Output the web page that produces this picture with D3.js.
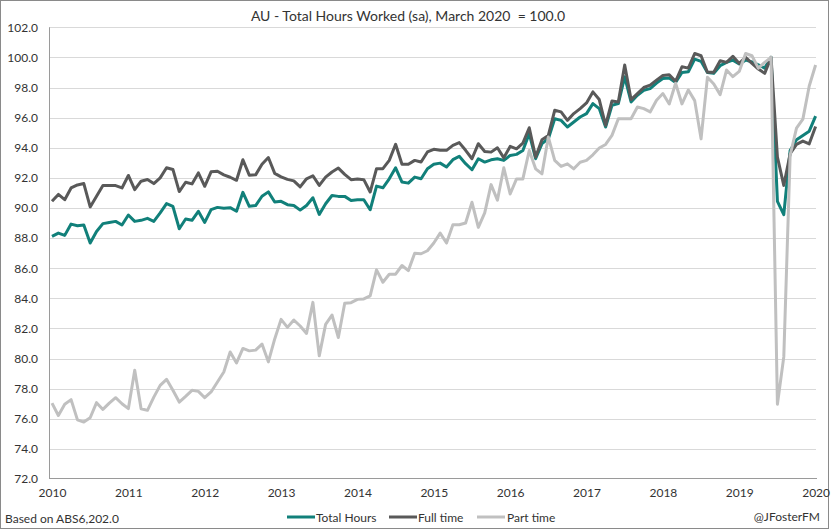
<!DOCTYPE html>
<html>
<head>
<meta charset="utf-8">
<script src="https://cdn.jsdelivr.net/npm/d3@7"></script>
<style>
  html, body { margin: 0; padding: 0; background: #fff; }
  svg { display: block; }
  text { font-family: "Lato", "Open Sans", sans-serif; fill: #333; }
</style>
</head>
<body>
<svg id="chart" width="832" height="530"></svg>
<script>
// ---- Data (monthly index, March 2020 = 100.0) ----
const totalHours = [
  88.11, 88.33, 88.18, 88.93, 88.82, 88.87, 87.67, 88.44, 88.96, 89.04, 89.11, 88.87, 89.53, 89.11, 89.18, 89.31, 89.11, 89.67, 90.29, 90.11,
  88.62, 89.27, 89.18, 89.78, 89.04, 89.89, 90.04, 89.98, 90.02, 89.78, 91.04, 90.11, 90.16, 90.78, 91.07, 90.40, 90.44, 90.22, 90.17, 89.86,
  90.17, 90.68, 89.57, 90.28, 90.83, 90.77, 90.77, 90.50, 90.55, 90.55, 89.88, 91.45, 91.34, 91.94, 92.67, 91.72, 91.65, 92.05, 91.94, 92.61,
  92.90, 92.98, 92.72, 93.21, 93.43, 92.94, 92.54, 93.27, 93.05, 93.20, 93.27, 93.16, 93.49, 93.56, 93.82, 94.93, 93.27, 94.27, 94.60, 95.93,
  95.82, 95.38, 95.71, 96.04, 96.27, 96.93, 96.60, 95.38, 96.82, 96.93, 98.71, 97.04, 97.49, 97.82, 97.93, 98.30, 98.60, 98.63, 98.34, 99.00,
  99.05, 99.89, 99.74, 99.00, 98.94, 99.45, 99.67, 99.82, 99.56, 99.82, 99.70, 99.51, 99.29, 100.0, 90.44, 89.56, 93.82, 94.53, 94.81, 95.10,
  96.10
];
const fullTime = [
  90.44, 90.90, 90.55, 91.33, 91.53, 91.62, 90.07, 90.78, 91.49, 91.49, 91.49, 91.33, 92.16, 91.22, 91.78, 91.89, 91.62, 92.00, 92.67, 92.56,
  91.09, 91.71, 91.60, 92.33, 91.44, 92.40, 92.44, 92.20, 92.04, 91.84, 93.20, 92.18, 92.20, 92.90, 93.35, 92.30, 92.07, 91.90, 91.80, 91.40,
  91.94, 92.14, 91.50, 92.05, 92.39, 92.65, 92.23, 91.88, 91.92, 91.88, 91.06, 92.61, 92.61, 93.16, 94.23, 92.90, 92.90, 93.16, 93.05, 93.72,
  93.90, 93.83, 93.83, 94.16, 94.34, 93.83, 93.27, 94.27, 93.75, 93.71, 94.00, 93.33, 94.09, 93.93, 94.31, 95.33, 93.38, 94.53, 94.82, 96.49,
  96.38, 95.82, 96.27, 96.60, 96.98, 97.71, 97.20, 95.49, 97.11, 97.04, 99.49, 97.20, 97.60, 98.00, 98.16, 98.49, 98.80, 98.85, 98.41, 99.38,
  99.29, 100.26, 100.11, 99.01, 99.01, 99.78, 99.67, 100.07, 99.60, 100.0, 99.60, 99.23, 98.94, 100.0, 93.38, 91.50, 93.60, 94.22, 94.44, 94.26,
  95.41
];
const partTime = [
  77.04, 76.22, 76.96, 77.27, 75.93, 75.78, 76.07, 77.07, 76.62, 77.04, 77.40, 77.00, 76.67, 79.22, 76.67, 76.56, 77.44, 78.22, 78.62, 77.89,
  77.11, 77.49, 77.89, 77.82, 77.40, 77.78, 78.44, 79.11, 80.44, 79.71, 80.67, 80.51, 80.56, 80.96, 79.78, 81.30, 82.60, 82.07, 82.56, 82.16,
  81.67, 83.73, 80.18, 82.27, 82.89, 81.40, 83.67, 83.71, 83.93, 83.96, 84.16, 85.89, 85.07, 85.60, 85.60, 86.18, 85.84, 87.00, 86.96, 87.16,
  87.67, 88.33, 87.67, 88.89, 88.89, 89.00, 90.38, 88.71, 89.67, 91.55, 90.52, 92.67, 90.93, 91.93, 91.93, 93.82, 92.60, 92.27, 94.71, 93.16,
  92.76, 92.93, 92.60, 93.04, 93.16, 93.53, 93.98, 94.22, 94.82, 95.93, 95.93, 95.93, 96.71, 96.60, 96.38, 97.16, 97.60, 96.91, 98.28, 96.91,
  97.84, 97.13, 94.59, 98.68, 98.23, 97.53, 99.16, 98.72, 99.07, 100.26, 100.11, 99.29, 99.67, 100.0, 76.96, 80.11, 93.50, 95.30, 95.90, 98.10,
  99.50
];
const xTickLabels = ["2010","2011","2012","2013","2014","2015","2016","2017","2018","2019","2020"];
const yTicks = [72, 74, 76, 78, 80, 82, 84, 86, 88, 90, 92, 94, 96, 98, 100, 102];
const seriesNames = ["Total Hours", "Full time", "Part time"];
const seriesColors = ["#11807a", "#595959", "#c0c0c0"];
const titleText = "AU - Total Hours Worked (sa), March 2020  = 100.0";
const sourceText = "Based on ABS6,202.0";
const creditText = "@JFosterFM";

// ---- Chart ----
const svg = d3.select("#chart");
const plot = { left: 49, right: 816, top: 27.3, bottom: 479 };
const n = totalHours.length;

const x = d3.scaleLinear().domain([0, n - 1]).range([52, 815.6]);
const y = d3.scaleLinear().domain([72, 102]).range([plot.bottom, plot.top]);
const xLab = d3.scalePoint().domain(xTickLabels).range([x(0), x(n - 1)]);

// outer frame
svg.append("rect")
  .attr("x", 0.5).attr("y", 0.5).attr("width", 828).attr("height", 528)
  .attr("fill", "#fff").attr("stroke", "#8a8a8a").attr("stroke-width", 1);

// gridlines
svg.append("g").selectAll("line").data(yTicks.filter(d => d > 72)).join("line")
  .attr("x1", plot.left).attr("x2", plot.right)
  .attr("y1", d => Math.round(y(d)) + 0.5).attr("y2", d => Math.round(y(d)) + 0.5)
  .attr("stroke", "#d9d9d9").attr("stroke-width", 1);

// y axis labels
const yAxis = d3.axisLeft(y).tickValues(yTicks).tickFormat(d3.format(".1f")).tickSize(0).tickPadding(0);
const gy = svg.append("g").attr("transform", `translate(${plot.left - 11},0)`).call(yAxis);
gy.select(".domain").remove();
gy.selectAll("text").style("font-size", "12px").attr("fill", "#333")
  .style("font-family", "Lato, 'Open Sans', sans-serif");

// axis lines
svg.append("line").attr("x1", plot.left + 0.5).attr("x2", plot.left + 0.5)
  .attr("y1", plot.top).attr("y2", plot.bottom).attr("stroke", "#9a9a9a");
svg.append("line").attr("x1", plot.left).attr("x2", plot.right + 1)
  .attr("y1", Math.round(plot.bottom) - 0.5).attr("y2", Math.round(plot.bottom) - 0.5).attr("stroke", "#9a9a9a");

// x axis labels
const xAxis = d3.axisBottom(xLab).tickSize(0).tickPadding(0);
const gx = svg.append("g").attr("transform", `translate(0,${plot.bottom + 9})`).call(xAxis);
gx.select(".domain").remove();
gx.selectAll("text").style("font-size", "12px").attr("fill", "#333")
  .style("font-family", "Lato, 'Open Sans', sans-serif");

// lines
const line = d3.line().x((d, i) => x(i)).y(d => y(d));
[totalHours, fullTime, partTime].forEach((s, k) => {
  svg.append("path").datum(s)
    .attr("d", line)
    .attr("fill", "none")
    .attr("stroke", seriesColors[k])
    .attr("stroke-width", 3)
    .attr("stroke-linejoin", "round");
});

// title
svg.append("text").attr("x", 408).attr("y", 21).attr("text-anchor", "middle")
  .style("font-size", "14px").style("white-space", "pre").attr("xml:space", "preserve")
  .attr("fill", "#222").text(titleText);

// legend
const legendX = [287, 389, 477];
seriesNames.forEach((name, k) => {
  const g = svg.append("g").attr("transform", `translate(${legendX[k]},517)`);
  g.append("line").attr("x1", 0).attr("x2", 28).attr("y1", 0).attr("y2", 0)
    .attr("stroke", seriesColors[k]).attr("stroke-width", 3);
  g.append("text").attr("x", k === 2 ? 30 : 29).attr("y", 4.5)
    .style("font-size", "12px").attr("fill", "#333").text(name);
});

// footer
svg.append("text").attr("x", 5).attr("y", 523).style("font-size", "12px").attr("fill", "#333").text(sourceText);
svg.append("text").attr("x", 820).attr("y", 521).attr("text-anchor", "end").style("font-size", "12px").attr("fill", "#333").text(creditText);
</script>
</body>
</html>
